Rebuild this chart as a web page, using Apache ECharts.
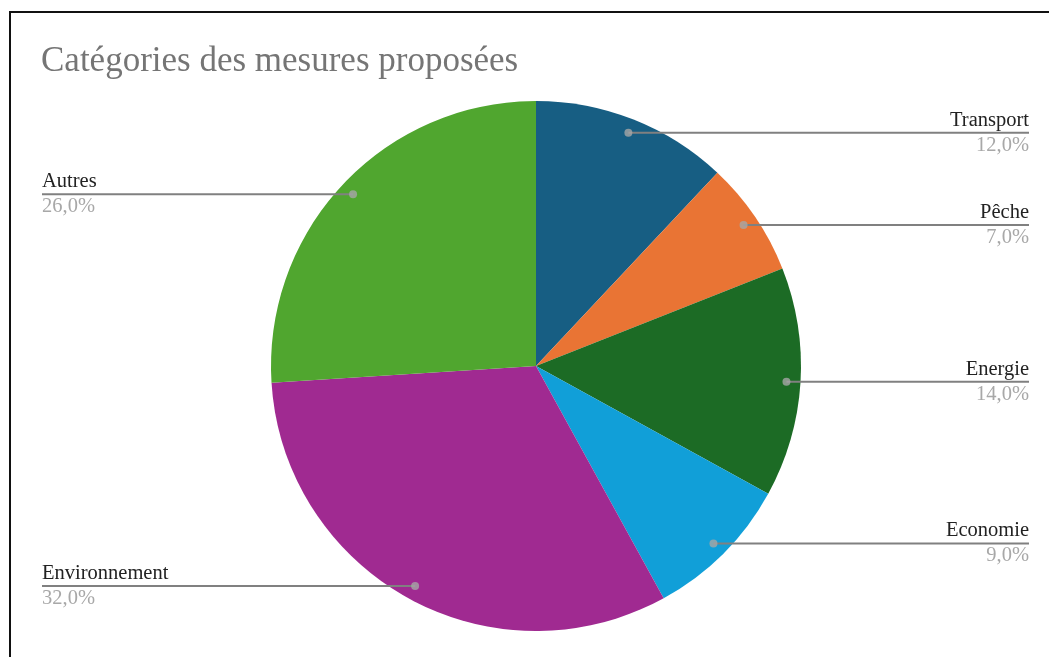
<!DOCTYPE html>
<html>
<head>
<meta charset="utf-8">
<script src="https://cdn.jsdelivr.net/npm/echarts@6/dist/echarts.min.js"></script>
<style>
html,body{margin:0;padding:0;background:#fff;}
#frame{position:absolute;left:9px;top:11px;width:1100px;height:700px;border-left:2px solid #111;border-top:2px solid #111;}
#chart{position:absolute;left:0;top:0;width:1049px;height:657px;}
</style>
</head>
<body>
<div id="frame"></div>
<div id="chart"></div>
<script>
const categories = ["Transport", "Pêche", "Energie", "Economie", "Environnement", "Autres"];
const values = [12, 7, 14, 9, 32, 26];
const colors = ["#175e83", "#e97434", "#1c6b25", "#119fd8", "#a02a91", "#50a62f"];
const titleText = "Catégories des mesures proposées";

const CX = 536, CY = 366, R = 265;
const DOT_R = 0.947; // fraction of radius where label dots sit
const RIGHT_EDGE = 1029, LEFT_EDGE = 42;

const total = values.reduce((a, b) => a + b, 0);
let cum = 0;
const dotData = values.map(v => { const mid = cum + v / 2; cum += v; return [DOT_R, mid / total * 100]; });

const chart = echarts.init(document.getElementById('chart'), null, {renderer: 'canvas'});
const fmtPct = v => v.toFixed(1).replace('.', ',') + '%';
const pieData = categories.map((c, i) => ({name: c, value: values[i]}));

chart.setOption({
  animation: false,
  backgroundColor: 'transparent',
  title: {
    text: titleText, left: 41, top: 44, padding: 0,
    textStyle: {fontFamily: 'Liberation Serif', fontSize: 35, fontWeight: 'normal', color: '#757575'}
  },
  polar: {center: [CX, CY], radius: R},
  angleAxis: {type: 'value', min: 0, max: 100, startAngle: 90, clockwise: true, show: false},
  radiusAxis: {type: 'value', min: 0, max: 1, show: false},
  series: [
    {
      type: 'pie',
      z: 1,
      center: [CX, CY],
      radius: [0, R],
      startAngle: 90,
      clockwise: true,
      silent: true,
      data: pieData.map((d, i) => ({...d, itemStyle: {color: colors[i]}})),
      label: {show: false},
      labelLine: {show: false}
    },
    {
      type: 'pie',
      z: 5,
      center: [CX, CY],
      radius: [0, R],
      startAngle: 90,
      clockwise: true,
      silent: true,
      avoidLabelOverlap: false,
      itemStyle: {color: 'rgba(0,0,0,0)'},
      data: pieData,
      label: {
        show: true,
        formatter: p => '{n|' + p.name + '}\n{p|' + fmtPct(p.value / total * 100) + '}',
        rich: {
          n: {fontFamily: 'Liberation Serif', fontSize: 20.5, color: '#222', lineHeight: 25},
          p: {fontFamily: 'Liberation Serif', fontSize: 20.5, color: '#a8a8a8', lineHeight: 25}
        }
      },
      labelLine: {show: true, lineStyle: {color: '#808080', width: 2}},
      labelLayout: function (params) {
        const i = params.dataIndex;
        let c0 = 0;
        for (let k = 0; k < i; k++) c0 += values[k];
        const ang = (c0 + values[i] / 2) / total * 2 * Math.PI;
        const dx = Math.sin(ang) * R * DOT_R, dy = -Math.cos(ang) * R * DOT_R;
        const px = CX + dx, py = CY + dy;
        const right = dx >= 0;
        const ex = right ? RIGHT_EDGE : LEFT_EDGE;
        return {
          x: ex, y: py,
          align: right ? 'right' : 'left',
          verticalAlign: 'middle',
          labelLinePoints: [[px, py], [px, py], [ex, py]]
        };
      }
    },
    {
      type: 'scatter',
      coordinateSystem: 'polar',
      symbol: 'circle',
      symbolSize: 8,
      itemStyle: {color: '#a6a6a6'},
      silent: true,
      z: 10,
      data: dotData
    }
  ]
});
</script>
</body>
</html>
